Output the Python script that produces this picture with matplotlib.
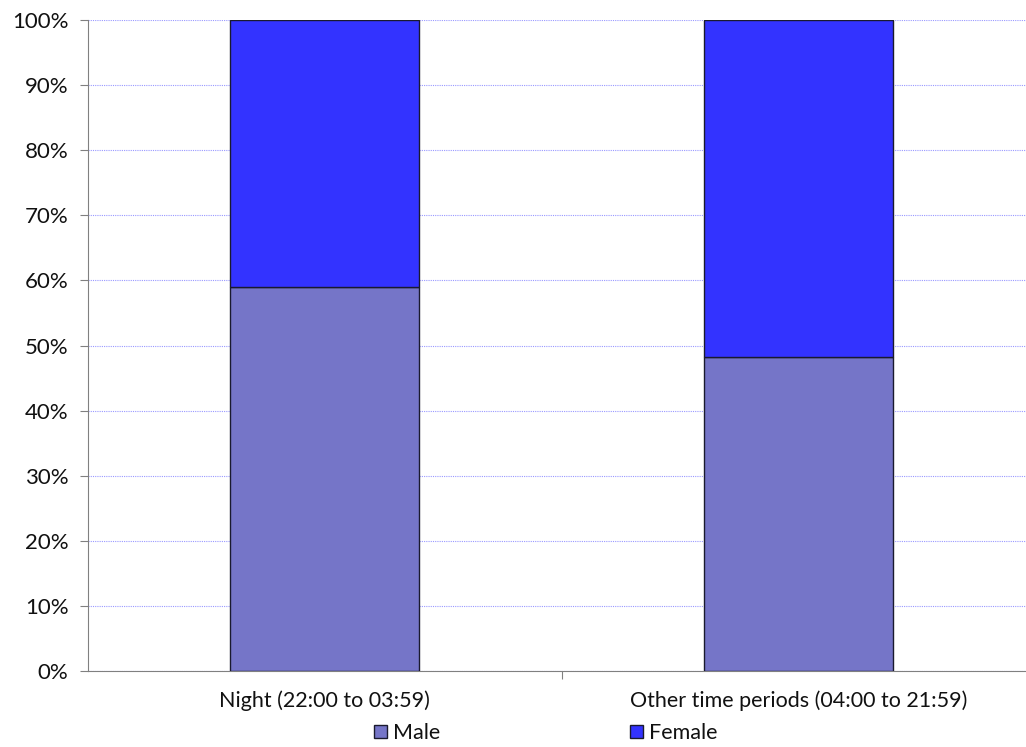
import numpy as np
import matplotlib.pyplot as plt
from matplotlib.ticker import PercentFormatter

plt.rcParams['font.family'] = ['Lato', 'DejaVu Sans']

# Datos
categorias = ['Night (22:00 to 03:59)', 'Other time periods (04:00 to 21:59)']
male = [59.0, 48.2]
female = [41.0, 51.8]

fig = plt.figure(figsize=(10.26, 7.47), dpi=100)
ax = fig.add_axes([88 / 1026, 1 - 671 / 747, 947 / 1026, 651 / 747])

x = np.arange(len(categorias))
ax.bar(x, male, width=0.4, color='#7575C8', edgecolor='#1a1a2e', linewidth=1, label='Male', zorder=3)
ax.bar(x, female, width=0.4, bottom=male, color='#3333FF', edgecolor='#1a1a2e', linewidth=1, label='Female', zorder=3)

ax.set_xlim(-0.5, 1.5)
ax.set_ylim(0, 100)
ax.set_yticks(np.arange(0, 101, 10))
ax.yaxis.set_major_formatter(PercentFormatter(decimals=0))
ax.yaxis.grid(True, color='#9999FF', linestyle=(0, (1, 1)), linewidth=0.8)
ax.set_axisbelow(True)

ax.set_xticks([0.5])
ax.set_xticklabels([''])
ax.set_xticks(x, minor=True)
ax.set_xticklabels(categorias, minor=True)
ax.tick_params(axis='x', which='minor', length=0, pad=14, labelsize=15.5, labelcolor='#111111')
ax.tick_params(axis='x', which='major', length=6, color='#808080', direction='out')
ax.tick_params(axis='y', length=6, color='#808080', labelsize=16, pad=8, labelcolor='#111111')

for lado in ['top', 'right']:
    ax.spines[lado].set_visible(False)
for lado in ['left', 'bottom']:
    ax.spines[lado].set_color('#808080')

fig.legend(loc='center', bbox_to_anchor=(546 / 1026, 1 - 733 / 747), ncol=2, frameon=False,
           fontsize=15.5, handlelength=0.6, handleheight=0.6, handletextpad=0.3, columnspacing=8.8,
           labelcolor='#111111')

fig.savefig('out.png', dpi=100)
